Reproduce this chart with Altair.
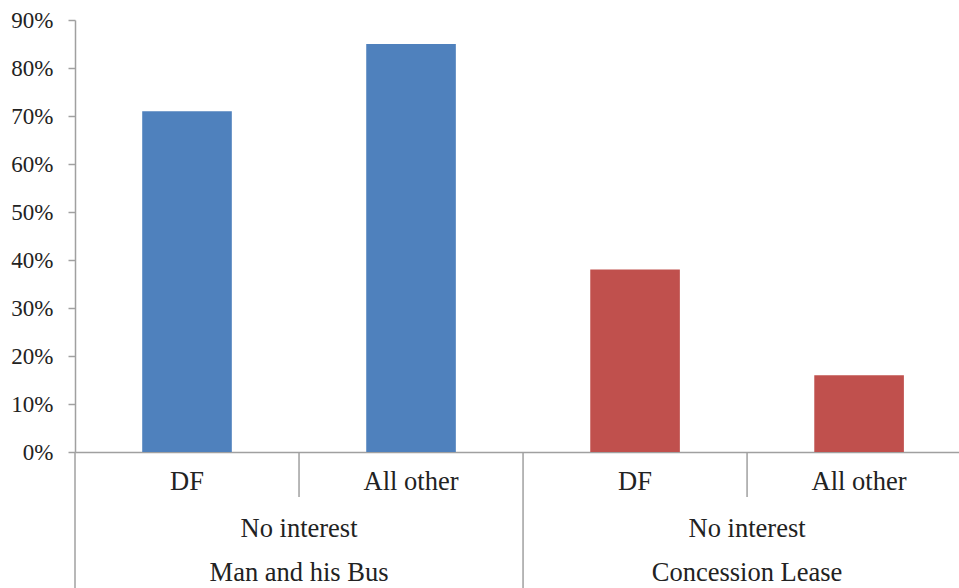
import altair as alt
import pandas as pd

# ---- data ----
groups = ["Man and his Bus", "Man and his Bus", "Concession Lease", "Concession Lease"]
subgroups = ["No interest", "No interest", "No interest", "No interest"]
categories = ["DF", "All other", "DF", "All other"]
values = [0.71, 0.85, 0.38, 0.16]
group_names = ["Man and his Bus", "Concession Lease"]
group_colors = ["#4F81BD", "#C0504D"]
y_ticks = [0.0, 0.1, 0.2, 0.3, 0.4, 0.5, 0.6, 0.7, 0.8, 0.9]

df = pd.DataFrame({
    "idx": list(range(len(categories))),
    "group": groups,
    "sub": subgroups,
    "cat": categories,
    "value": values,
})

# group label table (centre of each group's categories)
gdf = df.groupby("group", sort=False).agg(sub=("sub", "first"), idx=("idx", "mean")).reset_index()
gdf["center"] = gdf["idx"] + 0.5

# separators: boundaries between categories inside a group (short) and between groups (long)
inner = [i for i in df["idx"] if i > 0 and groups[i] == groups[i - 1]]
outer = [i for i in df["idx"] if i == 0 or groups[i] != groups[i - 1]]
sep_inner = pd.DataFrame({"b": inner})
sep_outer = pd.DataFrame({"b": outer})

GRAY = "#A0A0A0"
FONT = "Liberation Serif"
TXT = "#222222"

xscale = alt.Scale(domain=[0, 3.946], nice=False, zero=False, padding=0)

bars = alt.Chart(df).transform_calculate(
    x0="datum.idx + 0.3", x1="datum.idx + 0.7"
).mark_bar(orient="vertical").encode(
    x=alt.X("x0:Q", scale=xscale,
            axis=alt.Axis(labels=False, ticks=False, grid=False, title=None,
                          domain=True, domainColor=GRAY, domainWidth=1.5)),
    x2="x1:Q",
    y=alt.Y("value:Q", scale=alt.Scale(domain=[0, 0.9], nice=False, padding=0),
            axis=alt.Axis(values=y_ticks, format=".0%", grid=False, title=None,
                          tickSize=7, tickColor=GRAY, tickWidth=1.5,
                          domainColor=GRAY, domainWidth=1.5,
                          labelFont=FONT, labelFontSize=23, labelColor=TXT,
                          labelPadding=15)),
    y2=alt.datum(0),
    color=alt.Color("group:N", scale=alt.Scale(domain=group_names, range=group_colors), legend=None),
)

cat_labels = alt.Chart(df).transform_calculate(mid="datum.idx + 0.5").mark_text(
    font=FONT, fontSize=26.5, baseline="alphabetic", color=TXT
).encode(x=alt.X("mid:Q", scale=xscale), y=alt.value(470), text="cat:N")

sub_labels = alt.Chart(gdf).mark_text(
    font=FONT, fontSize=26.5, baseline="alphabetic", color=TXT
).encode(x=alt.X("center:Q", scale=xscale), y=alt.value(517), text="sub:N")

grp_labels = alt.Chart(gdf).mark_text(
    font=FONT, fontSize=26.5, baseline="alphabetic", color=TXT
).encode(x=alt.X("center:Q", scale=xscale), y=alt.value(561), text="group:N")

rules_inner = alt.Chart(sep_inner).mark_rule(color=GRAY, strokeWidth=1.5).encode(
    x=alt.X("b:Q", scale=xscale), y=alt.value(432), y2=alt.value(477)
)
rules_outer = alt.Chart(sep_outer).mark_rule(color=GRAY, strokeWidth=1.5).encode(
    x=alt.X("b:Q", scale=xscale), y=alt.value(432), y2=alt.value(570)
)

chart = alt.layer(bars, rules_inner, rules_outer, cat_labels, sub_labels, grp_labels).properties(
    width=884, height=432,
    autosize=alt.AutoSizeParams(type="none"),
    padding={"left": 75, "top": 20, "right": 0, "bottom": 136},
    background="white",
).configure_view(stroke=None)

chart.save("out.html", embed_options={"renderer": "svg", "actions": False})
